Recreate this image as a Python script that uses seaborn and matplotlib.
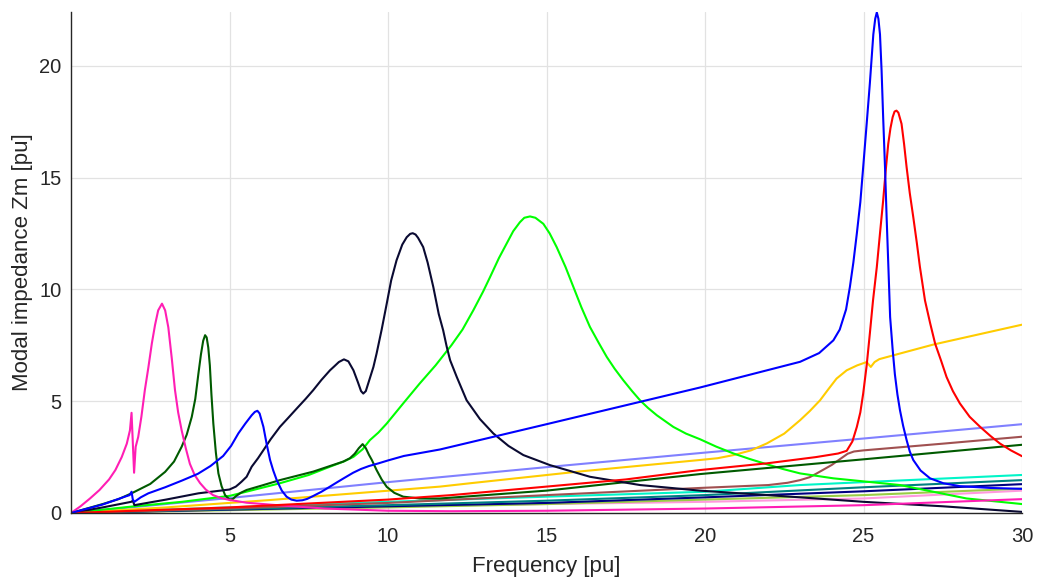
import numpy as np
import pandas as pd
import matplotlib
matplotlib.use("Agg")
import matplotlib.pyplot as plt
import seaborn as sns

# ---- data (frequency [pu], modal impedance [pu]) ----
magenta_x = [0, 0.3, 0.6, 0.9, 1.2, 1.4, 1.6, 1.76, 1.86, 1.91, 1.99, 2.04, 2.12, 2.22, 2.33, 2.44, 2.55, 2.65, 2.75, 2.87, 2.97, 3.07, 3.18, 3.28, 3.38, 3.49, 3.62, 3.75, 3.9, 4.07, 4.25, 4.48, 4.75, 5.02, 5.54, 6.5, 8, 10, 12, 15, 20, 25, 30]
magenta_y = [0, 0.3, 0.65, 1.03, 1.5, 1.92, 2.5, 3.1, 3.7, 4.48, 1.8, 2.96, 3.4, 4.3, 5.5, 6.5, 7.58, 8.4, 9.06, 9.36, 9.06, 8.3, 6.9, 5.5, 4.5, 3.7, 2.9, 2.2, 1.7, 1.34, 1.05, 0.8, 0.66, 0.58, 0.46, 0.35, 0.2, 0.1, 0.08, 0.1, 0.2, 0.35, 0.62]

dgreen_x = [0, 0.5, 1, 1.5, 1.91, 2.5, 2.97, 3.25, 3.49, 3.65, 3.81, 3.92, 4.02, 4.1, 4.17, 4.23, 4.28, 4.33, 4.38, 4.43, 4.49, 4.57, 4.65, 4.75, 4.86, 5.0, 5.1, 5.2, 5.35, 5.54, 6.0, 6.59, 7.64, 8.59, 8.8, 8.95, 9.08, 9.2, 9.3, 9.4, 9.49, 9.64, 9.8, 9.96, 10.2, 10.48, 11.0, 11.64, 15, 19.84, 25, 30]
dgreen_y = [0, 0.2, 0.4, 0.62, 0.88, 1.3, 1.84, 2.3, 2.96, 3.5, 4.3, 5.1, 6.24, 7.1, 7.7, 7.95, 7.85, 7.4, 6.6, 5.3, 4.0, 2.7, 1.77, 1.2, 0.8, 0.6, 0.62, 0.75, 0.9, 1.03, 1.22, 1.47, 1.85, 2.3, 2.45, 2.65, 2.9, 3.08, 2.9, 2.6, 2.37, 1.92, 1.5, 1.17, 0.9, 0.73, 0.65, 0.65, 1.0, 1.74, 2.4, 3.05]

blue_x = [0, 1, 1.7, 1.85, 1.91, 1.95, 2.0, 2.2, 2.44, 2.97, 3.5, 4.0, 4.4, 4.8, 5.05, 5.28, 5.5, 5.7, 5.8, 5.88, 5.95, 6.0, 6.07, 6.17, 6.28, 6.38, 6.49, 6.65, 6.8, 6.95, 7.12, 7.3, 7.45, 7.64, 7.9, 8.17, 8.4, 8.6, 8.9, 9.15, 9.4, 9.7, 10.0, 10.5, 11.64, 15.0, 19.84, 23.0, 23.6, 24.05, 24.25, 24.45, 24.57, 24.68, 24.79, 24.9, 24.99, 25.1, 25.2, 25.31, 25.37, 25.42, 25.47, 25.52, 25.57, 25.62, 25.68, 25.73, 25.79, 25.84, 25.92, 25.99, 26.07, 26.15, 26.25, 26.36, 26.46, 26.57, 26.8, 27.1, 27.52, 28.04, 29, 30]
blue_y = [0, 0.38, 0.73, 0.8, 0.95, 0.6, 0.5, 0.7, 0.88, 1.15, 1.45, 1.75, 2.1, 2.55, 3.0, 3.56, 4.0, 4.37, 4.52, 4.57, 4.45, 4.2, 3.85, 3.1, 2.37, 1.9, 1.47, 1.0, 0.73, 0.6, 0.55, 0.57, 0.63, 0.76, 0.95, 1.18, 1.38, 1.55, 1.8, 1.97, 2.1, 2.22, 2.35, 2.55, 2.84, 3.97, 5.61, 6.76, 7.15, 7.72, 8.2, 9.1, 10.1, 11.2, 12.5, 13.9, 15.46, 17.4, 19.2, 21.4, 22.1, 22.38, 22.1, 21.4, 19.8, 17.7, 15.4, 13.2, 10.8, 8.76, 7.3, 6.2, 5.3, 4.6, 3.9, 3.26, 2.75, 2.37, 1.9, 1.55, 1.33, 1.2, 1.12, 1.08]

navy_x = [0, 1, 1.9, 1.95, 2.0, 3.0, 4.02, 5.0, 5.2, 5.3, 5.38, 5.54, 5.7, 5.9, 6.07, 6.3, 6.59, 6.85, 7.12, 7.4, 7.64, 7.9, 8.17, 8.3, 8.45, 8.61, 8.75, 8.91, 9.05, 9.15, 9.22, 9.3, 9.4, 9.54, 9.64, 9.8, 9.96, 10.1, 10.27, 10.45, 10.59, 10.7, 10.78, 10.87, 10.95, 11.11, 11.25, 11.43, 11.6, 11.74, 11.85, 11.96, 12.17, 12.48, 12.9, 13.32, 13.8, 14.27, 15.11, 16.37, 17.95, 19.84, 22.5, 25, 27.5, 30]
navy_y = [0, 0.25, 0.5, 0.55, 0.35, 0.6, 0.88, 1.05, 1.18, 1.3, 1.4, 1.62, 2.07, 2.45, 2.81, 3.3, 3.85, 4.25, 4.67, 5.1, 5.49, 5.95, 6.38, 6.55, 6.75, 6.87, 6.78, 6.38, 5.85, 5.45, 5.34, 5.45, 5.9, 6.53, 7.13, 8.2, 9.36, 10.4, 11.3, 12.0, 12.33, 12.48, 12.51, 12.45, 12.3, 11.89, 11.2, 10.1, 8.9, 8.17, 7.45, 6.83, 6.08, 5.04, 4.2, 3.56, 3.0, 2.59, 2.14, 1.62, 1.25, 1.0, 0.75, 0.5, 0.3, 0.05]

green_x = [0, 2, 3.5, 5.02, 6.59, 7.5, 8.17, 8.6, 8.91, 9.2, 9.43, 9.7, 9.96, 10.48, 11.0, 11.5, 12.0, 12.35, 12.69, 13.0, 13.22, 13.5, 13.74, 13.95, 14.16, 14.3, 14.48, 14.65, 14.9, 15.1, 15.32, 15.6, 15.85, 16.1, 16.37, 16.65, 16.9, 17.15, 17.42, 17.7, 17.95, 18.2, 18.48, 18.75, 19.0, 19.4, 19.84, 20.35, 20.9, 21.4, 21.9, 22.45, 23.0, 24.05, 25.1, 26.15, 27.2, 28.25, 30]
green_y = [0, 0.3, 0.5, 0.77, 1.33, 1.7, 2.07, 2.3, 2.51, 2.85, 3.26, 3.6, 4.0, 4.9, 5.79, 6.6, 7.5, 8.2, 9.06, 9.9, 10.55, 11.4, 12.04, 12.6, 13.0, 13.2, 13.26, 13.2, 12.93, 12.5, 11.89, 11.0, 10.1, 9.2, 8.32, 7.6, 6.98, 6.45, 5.94, 5.45, 5.04, 4.7, 4.37, 4.1, 3.85, 3.55, 3.3, 2.97, 2.66, 2.42, 2.2, 1.97, 1.77, 1.55, 1.4, 1.25, 0.95, 0.65, 0.4]

red_x = [0, 5, 10, 12, 15, 17.5, 19.84, 21.95, 23.5, 24.2, 24.47, 24.65, 24.79, 24.9, 24.99, 25.1, 25.2, 25.3, 25.42, 25.52, 25.62, 25.7, 25.78, 25.85, 25.92, 25.98, 26.04, 26.1, 26.2, 26.28, 26.36, 26.46, 26.57, 26.68, 26.78, 26.94, 27.1, 27.26, 27.45, 27.62, 27.82, 28.04, 28.35, 28.68, 29.0, 29.3, 29.65, 30]
red_y = [0, 0.25, 0.6, 0.8, 1.18, 1.5, 1.92, 2.22, 2.5, 2.66, 2.78, 3.2, 3.85, 4.5, 5.34, 6.6, 8.02, 9.5, 11.0, 12.5, 13.97, 15.3, 16.5, 17.2, 17.7, 17.95, 17.99, 17.9, 17.4, 16.5, 15.46, 14.3, 13.23, 12.1, 11.0, 9.5, 8.5, 7.57, 6.8, 6.08, 5.45, 4.9, 4.3, 3.85, 3.45, 3.11, 2.8, 2.54]

gold_x = [0, 3, 6.28, 11.64, 12.59, 16, 19.84, 20.4, 20.9, 21.45, 21.95, 22.5, 23.0, 23.3, 23.63, 23.9, 24.15, 24.47, 24.8, 25.1, 25.23, 25.35, 25.5, 26.15, 27.2, 30]
gold_y = [0, 0.25, 0.58, 1.18, 1.33, 1.85, 2.37, 2.45, 2.59, 2.8, 3.11, 3.55, 4.15, 4.55, 5.04, 5.55, 6.01, 6.38, 6.6, 6.75, 6.53, 6.75, 6.88, 7.13, 7.53, 8.42]

peri_x = [0, 5, 10, 15, 20, 25, 30]
peri_y = [0, 0.67, 1.38, 2.05, 2.7, 3.33, 3.97]

brown_x = [0, 5, 10, 15, 19.84, 22, 22.6, 23, 23.3, 23.5, 23.75, 24, 24.25, 24.5, 24.7, 25, 27.5, 30]
brown_y = [0, 0.2, 0.45, 0.8, 1.12, 1.25, 1.35, 1.47, 1.6, 1.75, 1.95, 2.15, 2.4, 2.65, 2.75, 2.8, 3.1, 3.41]

aqua_x = [0, 5, 10, 15, 20, 23, 25, 30]
aqua_y = [0, 0.25, 0.5, 0.73, 0.95, 1.25, 1.38, 1.7]

teal_x = [0, 10, 15, 20, 25, 30]
teal_y = [0, 0.35, 0.55, 0.8, 1.15, 1.47]

dnavy_x = [0, 10, 15, 20, 25, 30]
dnavy_y = [0, 0.3, 0.45, 0.7, 0.97, 1.29]

ygreen_x = [0, 10, 15, 20, 25, 30]
ygreen_y = [0, 0.25, 0.4, 0.6, 0.8, 1.09]

lpink_x = [0, 10, 15, 20, 25, 30]
lpink_y = [0, 0.3, 0.4, 0.5, 0.65, 1.0]

series = [
    ("lpink", lpink_x, lpink_y, "#FF99DD"),
    ("ygreen", ygreen_x, ygreen_y, "#99CC44"),
    ("dnavy", dnavy_x, dnavy_y, "#000080"),
    ("teal", teal_x, teal_y, "#008080"),
    ("aqua", aqua_x, aqua_y, "#00F5C8"),
    ("brown", brown_x, brown_y, "#A05050"),
    ("peri", peri_x, peri_y, "#8080FF"),
    ("gold", gold_x, gold_y, "#FFCC00"),
    ("green", green_x, green_y, "#00FF00"),
    ("dgreen", dgreen_x, dgreen_y, "#005A00"),
    ("navy", navy_x, navy_y, "#0A0A32"),
    ("magenta", magenta_x, magenta_y, "#FF1EB4"),
    ("red", red_x, red_y, "#FF0000"),
    ("blue", blue_x, blue_y, "#0000FF"),
]

frames = []
for name, xs, ys, _ in series:
    frames.append(pd.DataFrame({"freq": xs, "Zm": ys, "mode": name}))
df = pd.concat(frames, ignore_index=True)
palette = {name: c for name, _, _, c in series}

sns.set_style("white")
plt.rcParams["font.family"] = ["Liberation Sans", "DejaVu Sans"]

fig = plt.figure(figsize=(10.37, 5.81), dpi=100)
ax = fig.add_axes([71 / 1037, 1 - 513 / 581, (1022 - 71) / 1037, (513 - 12) / 581])

sns.lineplot(data=df, x="freq", y="Zm", hue="mode", palette=palette,
             hue_order=[s[0] for s in series], estimator=None, sort=False,
             legend=False, linewidth=1.5, ax=ax)

ax.set_xlim(0, 30)
ax.set_ylim(0, 22.4)
ax.set_xticks([5, 10, 15, 20, 25, 30])
ax.set_yticks([0, 5, 10, 15, 20])
ax.grid(True, color="#E2E2E2", linewidth=0.9)
ax.set_axisbelow(True)
for s in ["top", "right"]:
    ax.spines[s].set_visible(False)
for s in ["left", "bottom"]:
    ax.spines[s].set_color("#262626")
    ax.spines[s].set_linewidth(1.0)
ax.tick_params(direction="in", length=7, width=1.0, colors="#262626",
               labelsize=14.5)
ax.tick_params(axis="x", pad=10)
ax.tick_params(axis="y", pad=7)
ax.set_xlabel("Frequency [pu]", fontsize=16, color="#262626", labelpad=7)
ax.set_ylabel("Modal impedance Zm [pu]", fontsize=16, color="#262626", labelpad=4)

fig.savefig("out.png", dpi=100)
